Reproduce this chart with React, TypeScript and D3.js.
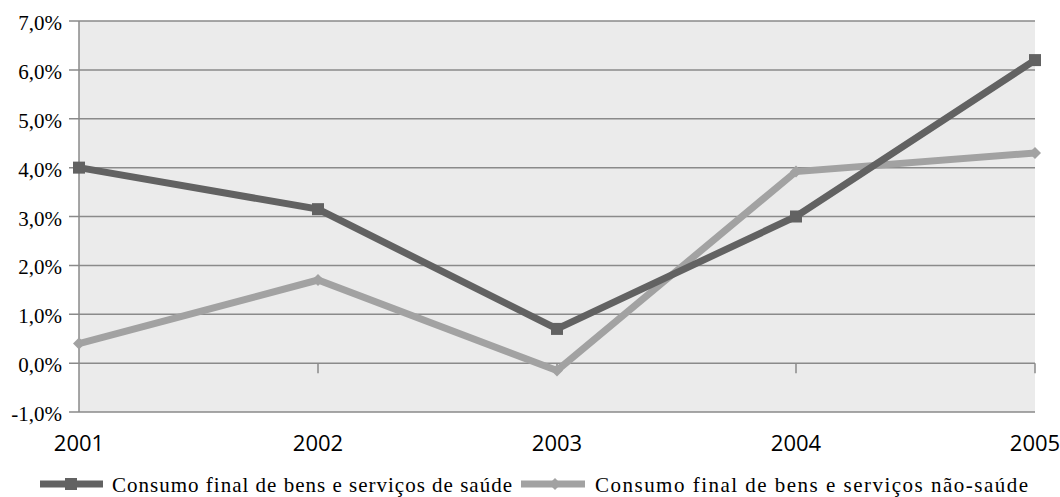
import React from "react";
import * as d3 from "d3";

const years = ["2001", "2002", "2003", "2004", "2005"];
const saude = [4.0, 3.15, 0.7, 3.0, 6.2];
const naoSaude = [0.4, 1.7, -0.15, 3.92, 4.3];
const yTicks = [-1, 0, 1, 2, 3, 4, 5, 6, 7];
const seriesNames = [
  "Consumo final de bens e serviços de saúde",
  "Consumo final de bens e serviços não-saúde",
];

const W = 1060, H = 497;
const left = 79, right = 1035, top = 21, bottom = 412;
const darkC = "#626262", lightC = "#a2a2a2";
const serif = "'Liberation Serif', 'Times New Roman', serif";

export default function App() {
  const x = d3.scalePoint<string>().domain(years).range([left, right]);
  const y = d3.scaleLinear().domain([-1, 7]).range([bottom, top]);
  const line = d3.line<number>().x((_, i) => x(years[i])!).y((d) => y(d));
  const fmt = (v: number) => v.toFixed(1).replace(".", ",") + "%";
  const diamond = (cx: number, cy: number, r: number) =>
    `M${cx},${cy - r}L${cx + r},${cy}L${cx},${cy + r}L${cx - r},${cy}Z`;
  return (
    <svg width={W} height={H} style={{ position: "absolute", left: 0, top: 0 }}>
      <rect x={left} y={top} width={right - left} height={bottom - top} fill="#ebebeb" />
      {yTicks.map((t) => (
        <g key={t}>
          <line x1={left - 10} x2={right} y1={y(t)} y2={y(t)} stroke="#8a8a8a" strokeWidth={1.5} />
          <text x={62} y={y(t) + 9} textAnchor="end" fontFamily={serif} fontSize={21} fill="#000">
            {fmt(t)}
          </text>
        </g>
      ))}
      <line x1={left} x2={left} y1={top} y2={bottom} stroke="#8a8a8a" strokeWidth={1.5} />
      {years.map((yr, i) => (
        <g key={yr}>
          {i > 0 && (
            <line x1={x(yr)} x2={x(yr)} y1={y(0)} y2={y(0) + 10} stroke="#8a8a8a" strokeWidth={1.5} />
          )}
          <text x={x(yr)} y={451} textAnchor="middle" fontFamily="Open Sans" fontSize={22} fill="#000">
            {yr}
          </text>
        </g>
      ))}
      <path d={line(naoSaude)!} fill="none" stroke={lightC} strokeWidth={7} strokeLinejoin="miter" />
      {naoSaude.map((v, i) => (
        <path key={i} d={diamond(x(years[i])!, y(v), 6)} fill={lightC} />
      ))}
      <path d={line(saude)!} fill="none" stroke={darkC} strokeWidth={7} strokeLinejoin="miter" />
      {saude.map((v, i) => (
        <rect key={i} x={x(years[i])! - 6} y={y(v) - 6} width={12} height={12} fill={darkC} />
      ))}
      <g>
        <line x1={40} x2={103} y1={484} y2={484} stroke={darkC} strokeWidth={7} />
        <rect x={65} y={478} width={12} height={12} fill={darkC} />
        <text x={112} y={492} fontFamily={serif} fontSize={21} fill="#000"
          textLength={400} lengthAdjust="spacing">
          {seriesNames[0]}
        </text>
        <line x1={521} x2={585} y1={484} y2={484} stroke={lightC} strokeWidth={7} />
        <path d={diamond(555, 484, 6)} fill={lightC} />
        <text x={595} y={492} fontFamily={serif} fontSize={21} fill="#000"
          textLength={433} lengthAdjust="spacing">
          {seriesNames[1]}
        </text>
      </g>
    </svg>
  );
}
